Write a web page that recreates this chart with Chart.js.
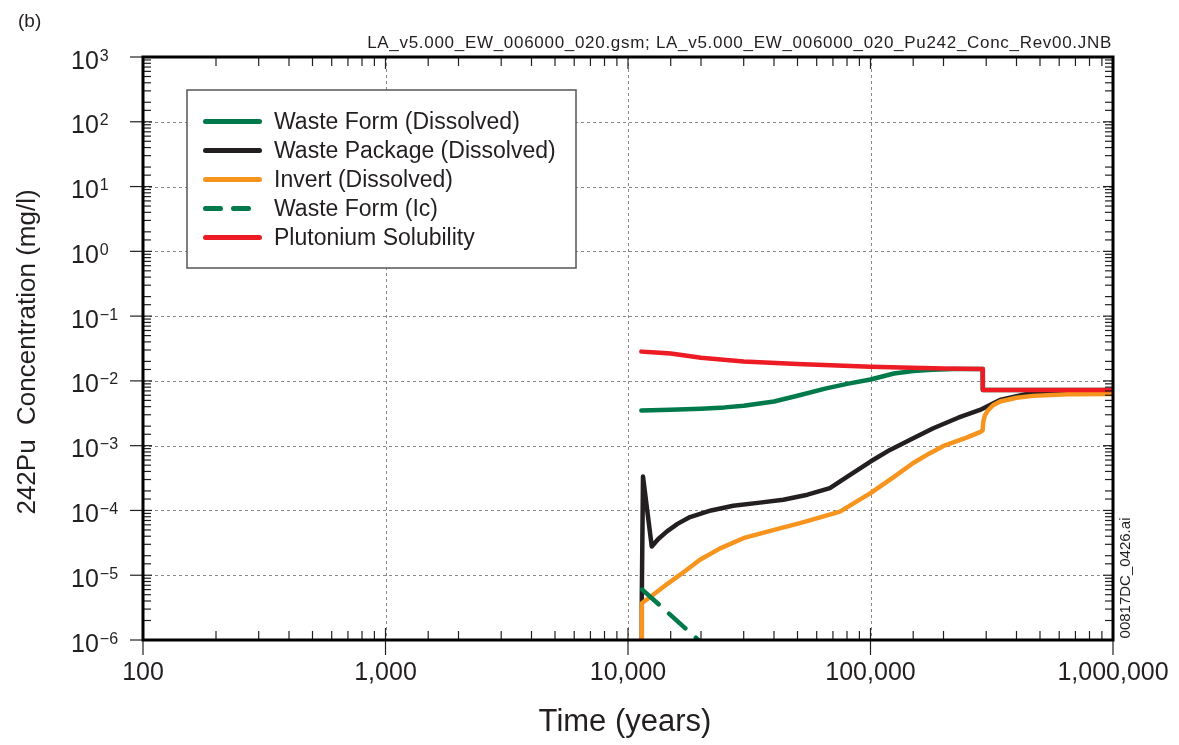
<!DOCTYPE html>
<html>
<head>
<meta charset="utf-8">
<script src="https://cdn.jsdelivr.net/npm/chart.js@4/dist/chart.umd.min.js"></script>
<style>
  html, body { margin: 0; padding: 0; background: #ffffff; }
  #wrap { width: 1179px; height: 745px; position: relative; }
</style>
</head>
<body>
<div id="wrap"><canvas id="c" width="1179" height="745"></canvas></div>
<script>
// Axis decades and their labels
const xTickValues = [100, 1000, 10000, 100000, 1000000];
const xTickLabels = ['100', '1,000', '10,000', '100,000', '1,000,000'];
const yTickValues = [1e-6, 1e-5, 1e-4, 1e-3, 1e-2, 1e-1, 1e0, 1e1, 1e2, 1e3];
const yTickBase = '10';
const yTickExponents = ['\u22126', '\u22125', '\u22124', '\u22123', '\u22122', '\u22121', '0', '1', '2', '3'];

// Waste Form (Dissolved)
const wfYears = [11350, 12500, 15000, 20000, 25000, 30000, 40000, 50000, 65000, 80000, 100000, 125000, 150000, 180000, 220000, 290000, 290500, 1000000];
const wfConc  = [0.00350, 0.00352, 0.00357, 0.00372, 0.00390, 0.00412, 0.00480, 0.00590, 0.00760, 0.00900, 0.01050, 0.01300, 0.01420, 0.01480, 0.01530, 0.01520, 0.00726, 0.00726];

// Waste Package (Dissolved)
const wpYears = [11350, 11400, 11530, 12530, 13300, 14440, 16000, 18020, 22000, 27160, 35000, 43700, 55000, 68000, 80000, 100000, 120300, 150000, 181500, 230000, 282800, 342000, 400000, 468000, 600000, 1000000];
const wpConc  = [1.0e-6, 4.5e-6, 3.33e-4, 2.77e-5, 3.6e-5, 4.72e-5, 6.2e-5, 7.9e-5, 1.0e-4, 1.18e-4, 1.32e-4, 1.46e-4, 1.75e-4, 2.21e-4, 3.3e-4, 5.69e-4, 8.6e-4, 1.3e-3, 1.86e-3, 2.7e-3, 3.56e-3, 5.09e-3, 5.8e-3, 6.6e-3, 6.9e-3, 7.0e-3];

// Invert (Dissolved)
const invYears = [11350, 11400, 12710, 14500, 16370, 19800, 24000, 29900, 40000, 51200, 62000, 74800, 100000, 125000, 150000, 175000, 200000, 249000, 282800, 290000, 291500, 296000, 305000, 320000, 342000, 400000, 468000, 650000, 1000000];
const invConc  = [1.0e-6, 3.7e-6, 5.0e-6, 7.3e-6, 1.01e-5, 1.73e-5, 2.6e-5, 3.73e-5, 5.0e-5, 6.37e-5, 7.8e-5, 9.6e-5, 1.85e-4, 3.3e-4, 5.4e-4, 7.6e-4, 9.9e-4, 1.33e-3, 1.62e-3, 1.72e-3, 2.3e-3, 2.9e-3, 3.5e-3, 4.2e-3, 4.8e-3, 5.5e-3, 5.87e-3, 6.2e-3, 6.3e-3];

// Waste Form (Ic)
const icYears = [11450, 15000, 19500];
const icConc  = [6.0e-6, 2.42e-6, 1.0e-6];

// Plutonium Solubility
const solYears = [11350, 13000, 15000, 20000, 30000, 50000, 100000, 200000, 290000, 290500, 1000000];
const solConc  = [0.0283, 0.0274, 0.0265, 0.0228, 0.0200, 0.0182, 0.0166, 0.0156, 0.0152, 0.00726, 0.00726];

const TEXT = '#231f20';
const FONT = '"Liberation Sans", Arial, Helvetica, sans-serif';

function pts(xs, ys) { return xs.map((v, i) => ({ x: v, y: ys[i] })); }
function decadeIndex(list, v) {
  const lv = Math.log10(v);
  return list.findIndex(d => Math.abs(Math.log10(d) - lv) < 1e-6);
}

const lineBase = { pointRadius: 0, borderWidth: 4.5, tension: 0, fill: false,
                   borderJoinStyle: 'round', borderCapStyle: 'round' };

const datasets = [
  Object.assign({ label: 'Waste Form (Dissolved)', data: pts(wfYears, wfConc), borderColor: '#00794b', order: 4 }, lineBase),
  Object.assign({ label: 'Waste Package (Dissolved)', data: pts(wpYears, wpConc), borderColor: '#231f20', order: 3 }, lineBase),
  Object.assign({ label: 'Invert (Dissolved)', data: pts(invYears, invConc), borderColor: '#f7941d', order: 2 }, lineBase),
  Object.assign({ label: 'Waste Form (Ic)', data: pts(icYears, icConc), borderColor: '#00794b', borderDash: [22, 14], order: 1 }, lineBase),
  Object.assign({ label: 'Plutonium Solubility', data: pts(solYears, solConc), borderColor: '#ed1c24', order: 0 }, lineBase)
];

function line(ctx, x1, y1, x2, y2) {
  ctx.beginPath(); ctx.moveTo(x1, y1); ctx.lineTo(x2, y2); ctx.stroke();
}

const decorPlugin = {
  id: 'decor',
  beforeDatasetsDraw(chart) {
    // dotted grid at each decade
    const { ctx, chartArea: a, scales: { x, y } } = chart;
    ctx.save();
    ctx.strokeStyle = '#8a8a8a';
    ctx.lineWidth = 1;
    ctx.setLineDash([3, 3]);
    xTickValues.forEach(v => {
      const p = Math.round(x.getPixelForValue(v)) + 0.5;
      if (p > a.left + 3 && p < a.right - 3) line(ctx, p, a.top, p, a.bottom);
    });
    yTickValues.forEach(v => {
      const p = Math.round(y.getPixelForValue(v)) + 0.5;
      if (p > a.top + 3 && p < a.bottom - 3) line(ctx, a.left, p, a.right, p);
    });
    ctx.restore();
  },
  afterDatasetsDraw(chart) {
    const { ctx, chartArea: a, scales: { x, y } } = chart;
    ctx.save();
    ctx.strokeStyle = TEXT;
    ctx.lineWidth = 1.2;
    x.ticks.forEach(t => {
      const p = x.getPixelForValue(t.value);
      if (decadeIndex(xTickValues, t.value) >= 0) {
        line(ctx, p, a.bottom - 12, p, a.bottom + 15);
        line(ctx, p, a.top, p, a.top + 12);
      } else {
        line(ctx, p, a.bottom, p, a.bottom - 9);
        line(ctx, p, a.top, p, a.top + 9);
      }
    });
    y.ticks.forEach(t => {
      const p = y.getPixelForValue(t.value);
      if (decadeIndex(yTickValues, t.value) >= 0) {
        line(ctx, a.left - 13, p, a.left + 9, p);
        line(ctx, a.right - 10, p, a.right, p);
      } else {
        line(ctx, a.left, p, a.left + 8, p);
        line(ctx, a.right - 8, p, a.right, p);
      }
    });
    // plot frame
    ctx.lineWidth = 3;
    ctx.strokeStyle = '#000000';
    ctx.strokeRect(a.left, a.top, a.right - a.left, a.bottom - a.top);

    // decade labels on the concentration axis: base with raised exponent
    ctx.fillStyle = TEXT;
    ctx.textAlign = 'left';
    ctx.textBaseline = 'alphabetic';
    yTickValues.forEach((v, i) => {
      const p = y.getPixelForValue(v);
      ctx.font = '25px ' + FONT;
      ctx.fillText(yTickBase, 71, p + 11.5);
      const w = ctx.measureText(yTickBase).width;
      ctx.font = '16px ' + FONT;
      ctx.fillText(yTickExponents[i], 71 + w + 1, p + 3.5);
    });
    ctx.restore();
  },
  afterDraw(chart) {
    const { ctx } = chart;
    ctx.save();
    // legend
    const bx = 187, by = 90, bw = 389, bh = 178;
    ctx.fillStyle = '#ffffff';
    ctx.fillRect(bx, by, bw, bh);
    ctx.strokeStyle = '#555555';
    ctx.lineWidth = 1.5;
    ctx.strokeRect(bx, by, bw, bh);
    chart.data.datasets.forEach((ds, i) => {
      const ly = 121.5 + i * 29;
      ctx.strokeStyle = ds.borderColor;
      ctx.lineWidth = 5;
      ctx.lineCap = 'round';
      if (ds.borderDash) {
        ctx.setLineDash([15, 13]);
        line(ctx, 205.5, ly, 249.5, ly);
        ctx.setLineDash([]);
      } else {
        line(ctx, 205.5, ly, 259.5, ly);
      }
      ctx.fillStyle = TEXT;
      ctx.font = '23px ' + FONT;
      ctx.textAlign = 'left';
      ctx.textBaseline = 'middle';
      ctx.fillText(ds.label, 274, ly + 1);
    });

    ctx.fillStyle = TEXT;
    // panel tag
    ctx.font = '19px ' + FONT;
    ctx.textAlign = 'left';
    ctx.textBaseline = 'alphabetic';
    ctx.fillText('(b)', 18, 27);
    // file note
    ctx.font = '17px ' + FONT;
    ctx.letterSpacing = '0.7px';
    ctx.textAlign = 'right';
    ctx.fillText('LA_v5.000_EW_006000_020.gsm; LA_v5.000_EW_006000_020_Pu242_Conc_Rev00.JNB', 1112, 48);
    ctx.letterSpacing = '0px';
    // x title
    ctx.font = '31px ' + FONT;
    ctx.textAlign = 'center';
    ctx.textBaseline = 'middle';
    ctx.fillText('Time (years)', 625, 722);
    // y title
    ctx.save();
    ctx.translate(28, 352);
    ctx.rotate(-Math.PI / 2);
    ctx.font = '26px ' + FONT;
    ctx.fillText('242Pu  Concentration (mg/l)', 0, 0);
    ctx.restore();
    // side file id
    ctx.save();
    ctx.translate(1126, 578);
    ctx.rotate(-Math.PI / 2);
    ctx.font = '15px ' + FONT;
    ctx.fillText('00817DC_0426.ai', 0, 0);
    ctx.restore();
    ctx.restore();
  }
};

new Chart(document.getElementById('c'), {
  type: 'line',
  data: { datasets },
  options: {
    responsive: false,
    animation: false,
    devicePixelRatio: 1,
    layout: { padding: { left: 71, right: 66, top: 57, bottom: 0 } },
    plugins: { legend: { display: false }, tooltip: { enabled: false } },
    scales: {
      x: {
        type: 'logarithmic',
        position: 'bottom',
        min: 100,
        max: 1000000,
        grid: { display: false, drawTicks: false },
        border: { display: false },
        afterFit: s => { s.height = 105; s.paddingLeft = 0; s.paddingRight = 0; },
        ticks: {
          autoSkip: false,
          maxRotation: 0,
          padding: 18,
          color: TEXT,
          font: { family: FONT, size: 25 },
          callback: v => { const i = decadeIndex(xTickValues, v); return i >= 0 ? xTickLabels[i] : ''; }
        }
      },
      y: {
        type: 'logarithmic',
        position: 'left',
        min: 1e-6,
        max: 1e3,
        grid: { display: false, drawTicks: false },
        border: { display: false },
        afterFit: s => { s.width = 72; s.paddingTop = 0; s.paddingBottom = 0; },
        ticks: { display: false }
      }
    }
  },
  plugins: [decorPlugin]
});
</script>
</body>
</html>
